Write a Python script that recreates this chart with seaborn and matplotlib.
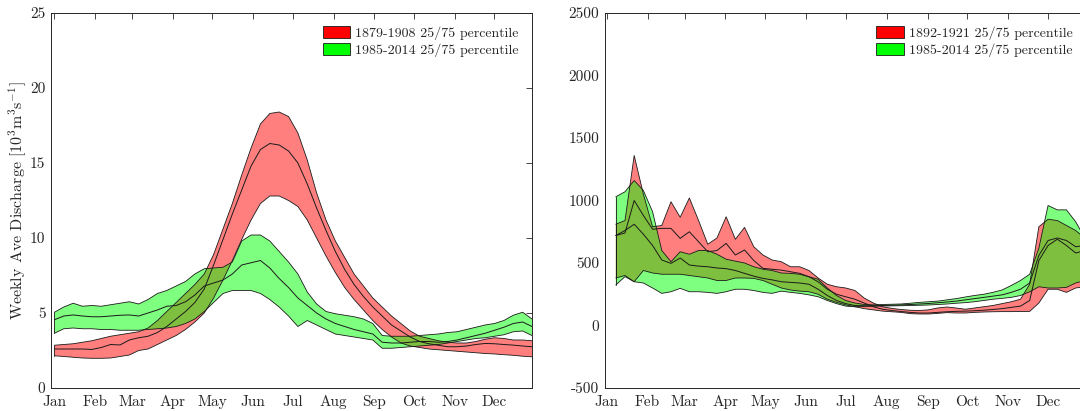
import numpy as np
import pandas as pd
import matplotlib
matplotlib.use("Agg")
import matplotlib.pyplot as plt
from matplotlib.patches import Patch
import seaborn as sns

# ---------------- data ----------------
months = ["Jan", "Feb", "Mar", "Apr", "May", "Jun", "Jul", "Aug", "Sep", "Oct", "Nov", "Dec"]
month_start_day = [0, 31, 59, 90, 120, 151, 181, 212, 243, 273, 304, 334]

# Left panel (units 10^3 m^3/s), 52 weekly values
left_red_label = "1879-1908 25/75 percentile"
left_green_label = "1985-2014 25/75 percentile"
left_red_p75 = [2.85, 2.9, 2.95, 3.05, 3.15, 3.3, 3.45, 3.55, 3.65, 3.75, 4.0, 4.5, 5.1, 5.7, 6.3, 6.9, 7.6,
                8.9, 10.6, 12.3, 14.2, 16.0, 17.6, 18.3, 18.4, 18.1, 17.0, 15.2, 13.0, 11.2, 9.8, 8.7, 7.6,
                6.8, 6.0, 5.4, 4.8, 4.3, 3.8, 3.45, 3.3, 3.15, 3.05, 3.0, 3.0, 3.1, 3.25, 3.35, 3.3, 3.2,
                3.2, 3.15]
left_red_med = [2.6, 2.6, 2.6, 2.6, 2.57, 2.7, 2.9, 2.87, 3.2, 3.35, 3.45, 3.7, 4.1, 4.6, 5.1, 5.7, 6.6,
                8.2, 9.9, 11.6, 13.2, 14.8, 15.9, 16.3, 16.2, 15.8, 15.0, 13.6, 12.0, 10.5, 9.1, 7.9, 6.9,
                6.1, 5.4, 4.8, 4.2, 3.8, 3.4, 3.1, 2.95, 2.85, 2.75, 2.75, 2.8, 2.9, 2.97, 2.95, 2.9, 2.86,
                2.8, 2.75]
left_red_p25 = [2.15, 2.1, 2.05, 2.0, 1.98, 1.98, 2.0, 2.1, 2.2, 2.5, 2.6, 2.9, 3.2, 3.5, 3.9, 4.4, 5.0,
                6.0, 7.2, 8.5, 9.9, 11.2, 12.3, 12.8, 12.8, 12.5, 12.1, 11.2, 10.0, 8.8, 7.7, 6.7, 5.9,
                5.2, 4.5, 3.9, 3.4, 3.0, 2.8, 2.7, 2.6, 2.55, 2.5, 2.45, 2.4, 2.35, 2.3, 2.27, 2.22, 2.18,
                2.12, 2.08]
left_green_p75 = [5.05, 5.4, 5.65, 5.45, 5.5, 5.45, 5.55, 5.65, 5.75, 5.6, 5.9, 6.3, 6.5, 6.8, 7.1, 7.6,
                  7.95, 8.0, 8.05, 8.4, 9.8, 10.2, 10.2, 9.8, 9.1, 8.4, 7.6, 6.4, 5.6, 5.1, 4.95, 4.85,
                  4.75, 4.6, 4.3, 3.5, 3.45, 3.45, 3.45, 3.5, 3.55, 3.6, 3.7, 3.75, 3.9, 4.05, 4.2, 4.3,
                  4.5, 4.85, 5.05, 4.6]
left_green_med = [4.55, 4.8, 4.87, 4.8, 4.75, 4.75, 4.8, 4.85, 4.87, 4.8, 5.0, 5.2, 5.45, 5.5, 5.75, 6.2,
                  6.8, 7.0, 7.2, 7.6, 8.2, 8.35, 8.5, 8.0, 7.3, 6.7, 6.0, 5.5, 5.0, 4.6, 4.3, 4.1, 3.9,
                  3.75, 3.6, 3.05, 3.0, 3.0, 3.05, 3.1, 3.1, 3.05, 3.1, 3.2, 3.35, 3.5, 3.65, 3.85, 4.05,
                  4.3, 4.4, 4.1]
left_green_p25 = [3.65, 3.95, 4.0, 3.95, 3.95, 3.9, 3.9, 3.85, 3.85, 3.85, 3.9, 3.95, 4.0, 4.1, 4.3, 4.6,
                  5.1, 5.7, 6.3, 6.5, 6.5, 6.5, 6.3, 5.9, 5.4, 4.8, 4.1, 4.5, 4.2, 3.9, 3.6, 3.5, 3.4,
                  3.3, 3.2, 2.65, 2.65, 2.7, 2.75, 2.8, 2.85, 2.9, 3.0, 3.1, 3.2, 3.3, 3.35, 3.45, 3.55,
                  3.75, 3.8, 3.5]

# Right panel (units m^3/s), 52 weekly values
right_red_label = "1892-1921 25/75 percentile"
right_green_label = "1985-2014 25/75 percentile"
right_red_p75 = [810, 840, 1360, 1050, 790, 800, 990, 866, 1020, 840, 650, 700, 870, 690, 785, 630, 564,
                 524, 510, 470, 470, 440, 380, 330, 310, 300, 280, 220, 180, 150, 137, 128, 122, 120, 125,
                 140, 148, 140, 130, 140, 150, 160, 175, 190, 210, 330, 790, 850, 840, 800, 760, 700]
right_red_med = [720, 740, 1000, 880, 770, 777, 777, 697, 750, 670, 590, 600, 657, 564, 604, 520, 457,
                 450, 443, 430, 417, 390, 350, 290, 250, 230, 210, 180, 150, 130, 120, 112, 105, 100, 100,
                 105, 110, 113, 115, 118, 122, 128, 135, 145, 155, 200, 520, 640, 690, 640, 580, 600]
right_red_p25 = [380, 400, 350, 440, 420, 410, 410, 410, 400, 390, 380, 360, 360, 380, 380, 377, 360,
                 330, 300, 284, 275, 270, 250, 210, 185, 165, 150, 135, 125, 115, 110, 105, 95, 92, 92,
                 97, 103, 100, 100, 105, 108, 110, 111, 111, 112, 113, 180, 290, 290, 265, 300, 310]
right_green_p75 = [1030, 1070, 1160, 1080, 910, 600, 510, 590, 570, 600, 600, 570, 530, 515, 500, 470,
                   450, 440, 420, 417, 410, 390, 370, 300, 240, 200, 180, 168, 165, 168, 170, 172, 178,
                   185, 190, 195, 205, 215, 228, 240, 250, 265, 284, 320, 360, 410, 620, 960, 925, 925,
                   830, 700]
right_green_med = [720, 760, 810, 730, 640, 524, 497, 540, 484, 475, 470, 460, 455, 440, 417, 395, 377,
                   365, 350, 345, 340, 330, 290, 240, 200, 175, 160, 158, 158, 160, 162, 165, 168, 172,
                   176, 182, 188, 195, 205, 215, 225, 235, 245, 265, 290, 340, 560, 680, 700, 680, 630,
                   640]
right_green_p25 = [324, 391, 350, 340, 300, 257, 270, 297, 270, 270, 265, 257, 270, 290, 290, 280, 265,
                   257, 275, 265, 257, 245, 230, 200, 175, 155, 150, 152, 155, 156, 157, 158, 160, 162,
                   164, 168, 172, 178, 183, 190, 200, 210, 217, 225, 240, 270, 310, 300, 300, 305, 340,
                   360]

left_yticks = [0, 5, 10, 15, 20, 25]
right_yticks = [-500, 0, 500, 1000, 1500, 2000, 2500]

# ---------------- style ----------------
sns.set_style("white")
plt.rcParams["font.family"] = ["cmr10", "DejaVu Serif"]
plt.rcParams["mathtext.fontset"] = "cm"
plt.rcParams["axes.unicode_minus"] = False
plt.rcParams["axes.formatter.use_mathtext"] = True

fig = plt.figure(figsize=(10.8, 4.11), dpi=100)
W, H = 1080.0, 411.0
ax1 = fig.add_axes([51 / W, 23 / H, 481 / W, 375 / H])
ax2 = fig.add_axes([604.7 / W, 23 / H, 481 / W, 375 / H])

RED = "#ff0000"
GREEN = "#00ff00"
LINE = "#1a1a1a"


def draw_panel(ax, days, red, green, labels, ylim, yticks, xlim):
    for (lo, med, hi), col in ((red, RED), (green, GREEN)):
        df = pd.DataFrame({"day": days, "lo": lo, "med": med, "hi": hi})
        ax.fill_between(df["day"], df["lo"], df["hi"], facecolor=col, alpha=0.5,
                        edgecolor="none", zorder=2)
        for c in ("lo", "hi"):
            sns.lineplot(data=df, x="day", y=c, ax=ax, color=LINE, lw=0.6,
                         zorder=3, estimator=None)
        sns.lineplot(data=df, x="day", y="med", ax=ax, color=LINE, lw=0.7,
                     zorder=3, estimator=None)
        for k in (0, len(days) - 1):
            ax.plot([days[k], days[k]], [lo[k], hi[k]], color=LINE, lw=0.6, zorder=3)
    ax.set_xlim(*xlim)
    ax.set_ylim(*ylim)
    ax.set_xticks(month_start_day)
    ax.set_xticklabels(months, fontsize=11)
    ax.set_yticks(yticks)
    ax.set_yticklabels([str(t) for t in yticks], fontsize=11)
    ax.set_xlabel("")
    ax.set_ylabel("")
    ax.tick_params(direction="in", length=4, width=0.6, top=True, right=True,
                   colors="#262626")
    ax.tick_params(axis="x", pad=5)
    ax.tick_params(axis="y", pad=4)
    for s in ax.spines.values():
        s.set_color("#262626")
        s.set_linewidth(0.7)
        s.set_visible(True)
    handles = [Patch(facecolor=RED, edgecolor=LINE, lw=0.6),
               Patch(facecolor=GREEN, edgecolor=LINE, lw=0.6)]
    leg = ax.legend(handles, labels, loc="upper right", fontsize=10, frameon=True,
                    handlelength=2.0, handleheight=0.9, handletextpad=0.35,
                    labelspacing=0.25, borderpad=0.35, borderaxespad=0.6, fancybox=False)
    leg.get_frame().set_edgecolor("white")
    leg.get_frame().set_facecolor("white")


n = 52
left_days = np.arange(n) * 7.11
right_days = 7.0 + np.arange(n) * 6.96

draw_panel(ax1, left_days,
           (left_red_p25, left_red_med, left_red_p75),
           (left_green_p25, left_green_med, left_green_p75),
           [left_red_label, left_green_label], (0, 25), left_yticks, (-2.6, 362.6))
ax1.set_ylabel(r"Weekly Ave Discharge [10$^3$m$^3$s$^{-1}$]", fontsize=11.5, labelpad=1)

draw_panel(ax2, right_days,
           (right_red_p25, right_red_med, right_red_p75),
           (right_green_p25, right_green_med, right_green_p75),
           [right_red_label, right_green_label], (-500, 2500), right_yticks, (-1.4, 362.6))

fig.savefig("out.png", dpi=100)
